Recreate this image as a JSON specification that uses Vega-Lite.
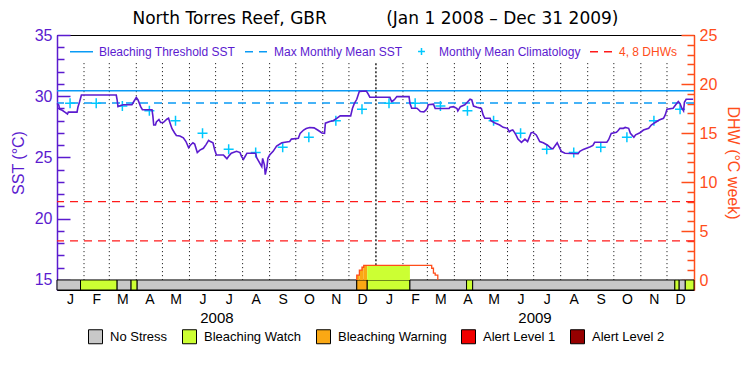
{
  "$schema": "https://vega.github.io/schema/vega-lite/v6.json",
  "width": 637,
  "height": 255,
  "autosize": "none",
  "padding": {"left": 57, "top": 35, "right": 56, "bottom": 85},
  "background": "white",
  "title": {
    "text": "North Torres Reef, GBR\u00a0\u00a0\u00a0\u00a0\u00a0\u00a0\u00a0\u00a0\u00a0\u00a0\u00a0(Jan 1 2008 – Dec 31 2009)",
    "fontSize": 17, "fontWeight": "normal", "font": "DejaVu Sans", "color": "black", "anchor": "middle", "offset": -1
  },
  "config": {
    "font": "Liberation Sans",
    "view": {"stroke": "black", "strokeWidth": 1},
    "axis": {"labelFont": "Liberation Sans", "titleFont": "Liberation Sans", "grid": false, "labelOverlap": false},
    "legend": {"labelFont": "Liberation Sans"}
  },
  "datasets": {
    "sst": [
      {"date":"2008-01-01","sst":29.42},{"date":"2008-01-03","sst":29.3},{"date":"2008-01-04","sst":28.94},{"date":"2008-01-07","sst":28.85},
      {"date":"2008-01-10","sst":28.7},{"date":"2008-01-13","sst":28.55},{"date":"2008-01-14","sst":28.7},{"date":"2008-01-24","sst":28.7},
      {"date":"2008-01-25","sst":29.1},{"date":"2008-01-27","sst":29.57},{"date":"2008-01-29","sst":30.1},{"date":"2008-03-09","sst":30.1},
      {"date":"2008-03-10","sst":29.7},{"date":"2008-03-11","sst":29.15},{"date":"2008-03-14","sst":29.25},{"date":"2008-03-17","sst":29.3},
      {"date":"2008-03-27","sst":29.3},{"date":"2008-03-29","sst":29.55},{"date":"2008-04-01","sst":29.9},{"date":"2008-04-03","sst":29.7},
      {"date":"2008-04-06","sst":29.15},{"date":"2008-04-08","sst":28.9},{"date":"2008-04-19","sst":28.9},{"date":"2008-04-20","sst":28.4},
      {"date":"2008-04-21","sst":27.65},{"date":"2008-04-23","sst":27.65},{"date":"2008-04-24","sst":27.9},{"date":"2008-04-27","sst":28.1},
      {"date":"2008-04-29","sst":27.85},{"date":"2008-05-02","sst":27.85},{"date":"2008-05-06","sst":28.12},{"date":"2008-05-08","sst":28.2},
      {"date":"2008-05-10","sst":27.76},{"date":"2008-05-12","sst":27.35},{"date":"2008-05-15","sst":27.0},{"date":"2008-05-17","sst":26.8},
      {"date":"2008-05-21","sst":26.75},{"date":"2008-05-25","sst":26.6},{"date":"2008-05-28","sst":26.3},{"date":"2008-05-31","sst":25.8},
      {"date":"2008-06-02","sst":26.0},{"date":"2008-06-05","sst":26.2},{"date":"2008-06-07","sst":26.1},{"date":"2008-06-10","sst":25.4},
      {"date":"2008-06-13","sst":25.6},{"date":"2008-06-17","sst":25.75},{"date":"2008-06-20","sst":26.05},{"date":"2008-06-23","sst":26.4},
      {"date":"2008-06-25","sst":26.3},{"date":"2008-06-28","sst":26.2},{"date":"2008-06-30","sst":25.6},{"date":"2008-07-02","sst":25.2},
      {"date":"2008-07-10","sst":25.2},{"date":"2008-07-12","sst":25.05},{"date":"2008-07-14","sst":24.9},{"date":"2008-07-16","sst":25.1},
      {"date":"2008-07-19","sst":25.35},{"date":"2008-07-25","sst":25.5},{"date":"2008-07-29","sst":25.4},{"date":"2008-07-31","sst":25.05},
      {"date":"2008-08-02","sst":24.85},{"date":"2008-08-04","sst":25.1},{"date":"2008-08-06","sst":25.35},{"date":"2008-08-16","sst":25.35},
      {"date":"2008-08-17","sst":25.0},{"date":"2008-08-21","sst":24.5},{"date":"2008-08-23","sst":24.25},{"date":"2008-08-24","sst":24.93},
      {"date":"2008-08-26","sst":24.4},{"date":"2008-08-27","sst":23.6},{"date":"2008-08-29","sst":24.25},{"date":"2008-08-30","sst":24.93},
      {"date":"2008-09-01","sst":25.2},{"date":"2008-09-05","sst":25.5},{"date":"2008-09-09","sst":25.94},{"date":"2008-09-15","sst":26.2},
      {"date":"2008-09-24","sst":26.3},{"date":"2008-09-26","sst":26.5},{"date":"2008-10-04","sst":26.57},{"date":"2008-10-06","sst":26.97},
      {"date":"2008-10-10","sst":27.24},{"date":"2008-10-13","sst":27.37},{"date":"2008-10-17","sst":27.45},{"date":"2008-10-22","sst":27.42},
      {"date":"2008-10-27","sst":27.2},{"date":"2008-10-31","sst":27.0},{"date":"2008-11-03","sst":26.97},{"date":"2008-11-04","sst":27.8},
      {"date":"2008-11-09","sst":27.93},{"date":"2008-11-13","sst":28.0},{"date":"2008-11-17","sst":28.2},{"date":"2008-11-21","sst":28.4},
      {"date":"2008-12-03","sst":28.4},{"date":"2008-12-05","sst":29.0},{"date":"2008-12-07","sst":29.37},{"date":"2008-12-10","sst":29.75},
      {"date":"2008-12-13","sst":30.4},{"date":"2008-12-21","sst":30.43},{"date":"2008-12-23","sst":30.2},{"date":"2008-12-25","sst":29.92},
      {"date":"2009-01-17","sst":29.92},{"date":"2009-01-19","sst":29.57},{"date":"2009-01-21","sst":29.65},{"date":"2009-01-23","sst":29.8},
      {"date":"2009-01-25","sst":29.97},{"date":"2009-02-08","sst":29.97},{"date":"2009-02-09","sst":29.43},{"date":"2009-02-11","sst":29.02},
      {"date":"2009-02-17","sst":29.02},{"date":"2009-02-19","sst":28.9},{"date":"2009-02-21","sst":28.75},{"date":"2009-02-25","sst":28.72},
      {"date":"2009-02-27","sst":28.85},{"date":"2009-03-01","sst":29.02},{"date":"2009-03-02","sst":29.3},{"date":"2009-03-08","sst":29.35},
      {"date":"2009-03-10","sst":29.0},{"date":"2009-03-26","sst":29.0},{"date":"2009-03-27","sst":29.1},{"date":"2009-03-31","sst":29.15},
      {"date":"2009-04-04","sst":29.0},{"date":"2009-04-05","sst":28.8},{"date":"2009-04-08","sst":29.15},{"date":"2009-04-13","sst":29.3},
      {"date":"2009-04-15","sst":29.45},{"date":"2009-04-19","sst":29.75},{"date":"2009-04-21","sst":29.7},{"date":"2009-04-23","sst":29.2},
      {"date":"2009-04-27","sst":29.1},{"date":"2009-05-02","sst":29.0},{"date":"2009-05-04","sst":28.47},{"date":"2009-05-06","sst":28.2},
      {"date":"2009-05-12","sst":28.2},{"date":"2009-05-13","sst":28.0},{"date":"2009-05-17","sst":27.84},{"date":"2009-05-23","sst":27.65},
      {"date":"2009-05-27","sst":27.46},{"date":"2009-06-01","sst":27.38},{"date":"2009-06-03","sst":27.1},{"date":"2009-06-05","sst":27.2},
      {"date":"2009-06-07","sst":27.25},{"date":"2009-06-09","sst":27.05},{"date":"2009-06-11","sst":26.8},{"date":"2009-06-13","sst":26.5},
      {"date":"2009-06-17","sst":26.23},{"date":"2009-06-21","sst":26.5},{"date":"2009-06-24","sst":26.3},{"date":"2009-06-28","sst":27.0},
      {"date":"2009-06-30","sst":27.05},{"date":"2009-07-04","sst":26.84},{"date":"2009-07-08","sst":26.3},{"date":"2009-07-12","sst":26.2},
      {"date":"2009-07-17","sst":26.0},{"date":"2009-07-21","sst":25.75},{"date":"2009-07-23","sst":25.7},{"date":"2009-07-26","sst":26.0},
      {"date":"2009-07-28","sst":26.2},{"date":"2009-07-31","sst":25.75},{"date":"2009-08-02","sst":25.48},{"date":"2009-08-06","sst":25.35},
      {"date":"2009-08-21","sst":25.3},{"date":"2009-08-23","sst":25.5},{"date":"2009-08-27","sst":25.66},{"date":"2009-09-01","sst":25.8},
      {"date":"2009-09-04","sst":25.88},{"date":"2009-09-07","sst":25.98},{"date":"2009-09-09","sst":26.24},{"date":"2009-09-23","sst":26.24},
      {"date":"2009-09-25","sst":26.45},{"date":"2009-09-28","sst":26.97},{"date":"2009-10-04","sst":27.05},{"date":"2009-10-06","sst":27.2},
      {"date":"2009-10-08","sst":27.38},{"date":"2009-10-12","sst":27.38},{"date":"2009-10-14","sst":27.45},{"date":"2009-10-18","sst":27.38},
      {"date":"2009-10-20","sst":26.97},{"date":"2009-10-24","sst":26.65},{"date":"2009-10-26","sst":26.85},{"date":"2009-10-31","sst":27.02},
      {"date":"2009-11-04","sst":27.24},{"date":"2009-11-10","sst":27.38},{"date":"2009-11-13","sst":27.65},{"date":"2009-11-17","sst":27.84},
      {"date":"2009-11-22","sst":28.06},{"date":"2009-11-27","sst":28.2},{"date":"2009-11-29","sst":28.47},{"date":"2009-12-01","sst":28.94},
      {"date":"2009-12-08","sst":29.02},{"date":"2009-12-11","sst":29.3},{"date":"2009-12-14","sst":29.57},{"date":"2009-12-16","sst":29.4},
      {"date":"2009-12-18","sst":29.02},{"date":"2009-12-20","sst":28.8},{"date":"2009-12-21","sst":29.5},{"date":"2009-12-23","sst":29.75},
      {"date":"2009-12-31","sst":29.75}
    ],
    "climatology": [
      {"date":"2008-01-16","sst":29.42,"series":"Monthly Mean Climatology"},{"date":"2008-02-15","sst":29.42,"series":"Monthly Mean Climatology"},
      {"date":"2008-03-16","sst":29.2,"series":"Monthly Mean Climatology"},{"date":"2008-04-16","sst":28.82,"series":"Monthly Mean Climatology"},
      {"date":"2008-05-16","sst":28.0,"series":"Monthly Mean Climatology"},{"date":"2008-06-16","sst":26.97,"series":"Monthly Mean Climatology"},
      {"date":"2008-07-16","sst":25.67,"series":"Monthly Mean Climatology"},{"date":"2008-08-16","sst":25.4,"series":"Monthly Mean Climatology"},
      {"date":"2008-09-16","sst":25.83,"series":"Monthly Mean Climatology"},{"date":"2008-10-16","sst":26.65,"series":"Monthly Mean Climatology"},
      {"date":"2008-11-16","sst":28.0,"series":"Monthly Mean Climatology"},{"date":"2008-12-16","sst":28.94,"series":"Monthly Mean Climatology"},
      {"date":"2009-01-16","sst":29.42,"series":"Monthly Mean Climatology"},{"date":"2009-02-15","sst":29.42,"series":"Monthly Mean Climatology"},
      {"date":"2009-03-16","sst":29.2,"series":"Monthly Mean Climatology"},{"date":"2009-04-16","sst":28.82,"series":"Monthly Mean Climatology"},
      {"date":"2009-05-16","sst":28.0,"series":"Monthly Mean Climatology"},{"date":"2009-06-16","sst":26.97,"series":"Monthly Mean Climatology"},
      {"date":"2009-07-16","sst":25.67,"series":"Monthly Mean Climatology"},{"date":"2009-08-16","sst":25.4,"series":"Monthly Mean Climatology"},
      {"date":"2009-09-16","sst":25.83,"series":"Monthly Mean Climatology"},{"date":"2009-10-16","sst":26.65,"series":"Monthly Mean Climatology"},
      {"date":"2009-11-16","sst":28.0,"series":"Monthly Mean Climatology"},{"date":"2009-12-16","sst":28.94,"series":"Monthly Mean Climatology"}
    ],
    "status": [
      {"start":"2008-01-01","end":"2008-01-28","status":"No Stress"},
      {"start":"2008-01-28","end":"2008-03-10","status":"Bleaching Watch"},
      {"start":"2008-03-10","end":"2008-03-26","status":"No Stress"},
      {"start":"2008-03-26","end":"2008-04-02","status":"Bleaching Watch"},
      {"start":"2008-04-02","end":"2008-12-10","status":"No Stress"},
      {"start":"2008-12-10","end":"2008-12-22","status":"Bleaching Warning"},
      {"start":"2008-12-22","end":"2009-02-09","status":"Bleaching Watch"},
      {"start":"2009-02-09","end":"2009-04-15","status":"No Stress"},
      {"start":"2009-04-15","end":"2009-04-22","status":"Bleaching Watch"},
      {"start":"2009-04-22","end":"2009-12-10","status":"No Stress"},
      {"start":"2009-12-10","end":"2009-12-15","status":"Bleaching Watch"},
      {"start":"2009-12-15","end":"2009-12-22","status":"No Stress"},
      {"start":"2009-12-22","end":"2010-01-01","status":"Bleaching Watch"}
    ],
    "dhwfill": [
      {"start":"2008-12-10","end":"2008-12-13","dhw":0.5,"status":"Bleaching Warning"},
      {"start":"2008-12-13","end":"2008-12-16","dhw":1.0,"status":"Bleaching Warning"},
      {"start":"2008-12-16","end":"2008-12-18","dhw":1.3,"status":"Bleaching Warning"},
      {"start":"2008-12-18","end":"2008-12-22","dhw":1.5,"status":"Bleaching Warning"},
      {"start":"2008-12-22","end":"2009-02-09","dhw":1.5,"status":"Bleaching Watch"}
    ],
    "dhw": [
      {"date":"2008-12-10","dhw":0},{"date":"2008-12-10","dhw":0.5},{"date":"2008-12-13","dhw":1.0},
      {"date":"2008-12-16","dhw":1.3},{"date":"2008-12-18","dhw":1.5},{"date":"2009-03-06","dhw":1.2},
      {"date":"2009-03-08","dhw":0.7},{"date":"2009-03-10","dhw":0.5},{"date":"2009-03-13","dhw":0}
    ],
    "months": [
      {"date":"2008-02-01"},{"date":"2008-03-01"},{"date":"2008-04-01"},{"date":"2008-05-01"},{"date":"2008-06-01"},
      {"date":"2008-07-01"},{"date":"2008-08-01"},{"date":"2008-09-01"},{"date":"2008-10-01"},{"date":"2008-11-01"},
      {"date":"2008-12-01"},{"date":"2009-02-01"},{"date":"2009-03-01"},{"date":"2009-04-01"},{"date":"2009-05-01"},
      {"date":"2009-06-01"},{"date":"2009-07-01"},{"date":"2009-08-01"},{"date":"2009-09-01"},{"date":"2009-10-01"},
      {"date":"2009-11-01"},{"date":"2009-12-01"}
    ]
  },
  "layer": [
    {
      "layer": [
        {
          "data": {"name": "months"},
          "mark": {"type": "rule", "color": "black", "strokeDash": [1, 3], "strokeWidth": 1},
          "encoding": {
            "x": {
              "field": "date", "type": "temporal",
              "scale": {"type": "utc", "domain": [{"year": 2008, "month": 1, "date": 1, "utc": true}, {"year": 2010, "month": 1, "date": 1, "utc": true}]},
              "axis": {
                "orient": "bottom", "title": null, "ticks": false, "domain": false, "grid": false, "tickCount": 100,
                "labelExpr": "utcFormat(datum.value, '%b')[0]", "labelFontSize": 14, "labelColor": "black",
                "labelPadding": 2, "labelOverlap": false, "labelFlush": false, "labelBound": false,
                "values": [
                  {"year":2008,"month":1,"date":16,"utc":true},{"year":2008,"month":2,"date":15,"utc":true},{"year":2008,"month":3,"date":16,"utc":true},
                  {"year":2008,"month":4,"date":16,"utc":true},{"year":2008,"month":5,"date":16,"utc":true},{"year":2008,"month":6,"date":16,"utc":true},
                  {"year":2008,"month":7,"date":16,"utc":true},{"year":2008,"month":8,"date":16,"utc":true},{"year":2008,"month":9,"date":16,"utc":true},
                  {"year":2008,"month":10,"date":16,"utc":true},{"year":2008,"month":11,"date":16,"utc":true},{"year":2008,"month":12,"date":16,"utc":true},
                  {"year":2009,"month":1,"date":16,"utc":true},{"year":2009,"month":2,"date":15,"utc":true},{"year":2009,"month":3,"date":16,"utc":true},
                  {"year":2009,"month":4,"date":16,"utc":true},{"year":2009,"month":5,"date":16,"utc":true},{"year":2009,"month":6,"date":16,"utc":true},
                  {"year":2009,"month":7,"date":16,"utc":true},{"year":2009,"month":8,"date":16,"utc":true},{"year":2009,"month":9,"date":16,"utc":true},
                  {"year":2009,"month":10,"date":16,"utc":true},{"year":2009,"month":11,"date":16,"utc":true},{"year":2009,"month":12,"date":16,"utc":true}
                ]
              }
            },
            "y": {
              "datum": 32.7, "type": "quantitative",
              "scale": {"domain": [14.18, 35], "nice": false, "zero": false},
              "axis": {
                "orient": "left", "title": "SST (°C)", "tickCount": 100, "format": "d",
                "values": [15,16,17,18,19,20,21,22,23,24,25,26,27,28,29,30,31,32,33,34,35],
                "labelExpr": "datum.value % 5 === 0 ? datum.label : ''",
                "tickSize": {"condition": {"test": "datum.value % 5 === 0", "value": -13}, "value": -7},
                "tickColor": "#5B1BCF", "tickWidth": 1.5, "domainColor": "#5B1BCF", "domainWidth": 1.5,
                "labelColor": "#5B1BCF", "labelFontSize": 16, "labelPadding": 18, "labelOverlap": false,
                "titleColor": "#5B1BCF", "titleFontSize": 16, "titleFontWeight": "normal", "titlePadding": 8, "grid": false
              }
            },
            "y2": {"datum": 15}
          }
        },
        {
          "data": {"values": [{"date": "2009-01-01"}]},
          "mark": {"type": "rule", "color": "black", "strokeDash": [2, 2], "strokeWidth": 1.3},
          "encoding": {
            "x": {"field": "date", "type": "temporal"},
            "y": {"datum": 32.7},
            "y2": {"datum": 15}
          }
        },
        {
          "data": {"values": [{"series": "Bleaching Threshold SST", "sst": 30.45}]},
          "mark": {"type": "rule", "strokeWidth": 1.3},
          "encoding": {
            "y": {"field": "sst", "type": "quantitative"},
            "stroke": {
              "field": "series", "type": "nominal",
              "scale": {
                "domain": ["Bleaching Threshold SST", "Max Monthly Mean SST", "Monthly Mean Climatology", "4, 8 DHWs"],
                "range": ["#0A9BF5", "#0A9BF5", "#00C8FF", "#FF1A1A"]
              },
              "legend": {
                "title": null, "orient": "none", "legendX": 12, "legendY": 4, "direction": "horizontal", "columns": 4,
                "padding": 0, "columnPadding": 6, "symbolSize": 529, "symbolStrokeWidth": 1.5,
                "labelFontSize": 12, "labelOffset": 5, "labelLimit": 0,
                "encode": {
                  "symbols": {"update": {
                    "shape": {"signal": "datum.value === 'Monthly Mean Climatology' ? 'M-0.3,0H0.3M0,-0.3V0.3' : 'stroke'"},
                    "strokeDash": {"signal": "(datum.value === 'Max Monthly Mean SST' || datum.value === '4, 8 DHWs') ? [8, 6] : [1, 0]"},
                    "fill": {"value": "transparent"}
                  }},
                  "labels": {"update": {"fill": {"signal": "datum.value === '4, 8 DHWs' ? '#FF4D1A' : '#5B1BCF'"}}}
                }
              }
            }
          }
        },
        {
          "data": {"values": [{"series": "Max Monthly Mean SST", "sst": 29.45}]},
          "mark": {"type": "rule", "strokeWidth": 1.3, "strokeDash": [8, 6]},
          "encoding": {
            "y": {"field": "sst", "type": "quantitative"},
            "stroke": {"field": "series", "type": "nominal"}
          }
        },
        {
          "data": {"name": "climatology"},
          "mark": {"type": "point", "shape": "M-1,0H1M0,-1V1", "size": 100, "strokeWidth": 1.5, "filled": false, "opacity": 1},
          "encoding": {
            "x": {"field": "date", "type": "temporal"},
            "y": {"field": "sst", "type": "quantitative"},
            "stroke": {"field": "series", "type": "nominal"}
          }
        },
        {
          "data": {"name": "sst"},
          "mark": {"type": "line", "color": "#5B1BCF", "strokeWidth": 1.6},
          "encoding": {
            "x": {"field": "date", "type": "temporal"},
            "y": {"field": "sst", "type": "quantitative"}
          }
        },
        {
          "data": {"name": "status"},
          "mark": {"type": "rect", "stroke": "black", "strokeWidth": 1},
          "encoding": {
            "x": {"field": "start", "type": "temporal"},
            "x2": {"field": "end"},
            "y": {"datum": 15},
            "y2": {"datum": 14.18},
            "color": {
              "field": "status", "type": "nominal",
              "scale": {
                "domain": ["No Stress", "Bleaching Watch", "Bleaching Warning", "Alert Level 1", "Alert Level 2"],
                "range": ["#C8C8C8", "#CCFF33", "#FAA814", "#F00000", "#960000"]
              },
              "legend": {
                "title": null, "orient": "none", "legendX": 31, "legendY": 294, "direction": "horizontal", "columns": 5,
                "padding": 0, "columnPadding": 12, "symbolType": "square", "symbolSize": 196,
                "symbolStrokeColor": "black", "symbolStrokeWidth": 1, "labelFontSize": 13, "labelOffset": 7, "labelLimit": 0,
                "labelColor": "black",
                "encode": {"symbols": {"update": {"stroke": {"value": "black"}, "strokeWidth": {"value": 1}, "opacity": {"value": 1}}}}
              }
            }
          }
        }
      ]
    },
    {
      "layer": [
        {
          "data": {"values": [{"series": "4, 8 DHWs", "dhw": 4}, {"series": "4, 8 DHWs", "dhw": 8}]},
          "mark": {"type": "rule", "strokeWidth": 1.3, "strokeDash": [8, 6]},
          "encoding": {
            "y": {
              "field": "dhw", "type": "quantitative",
              "scale": {"domain": [-1.02, 25], "nice": false, "zero": false},
              "axis": {
                "orient": "right", "title": "DHW (°C week)", "tickCount": 100, "format": "d",
                "values": [0,1,2,3,4,5,6,7,8,9,10,11,12,13,14,15,16,17,18,19,20,21,22,23,24,25],
                "labelExpr": "datum.value % 5 === 0 ? datum.label : ''",
                "tickSize": {"condition": {"test": "datum.value % 5 === 0", "value": -13}, "value": -7},
                "tickColor": "#FF4D1A", "tickWidth": 1.5, "domainColor": "#FF4D1A", "domainWidth": 1.5,
                "labelColor": "#FF4D1A", "labelFontSize": 16, "labelPadding": 18, "labelOverlap": false,
                "titleColor": "#FF4D1A", "titleFontSize": 16, "titleFontWeight": "normal", "titlePadding": 8, "grid": false
              }
            },
            "stroke": {"field": "series", "type": "nominal"}
          }
        },
        {
          "data": {"name": "dhwfill"},
          "mark": {"type": "rect"},
          "encoding": {
            "x": {"field": "start", "type": "temporal", "axis": null},
            "x2": {"field": "end"},
            "y": {"field": "dhw", "type": "quantitative"},
            "y2": {"datum": 0},
            "color": {"field": "status", "type": "nominal"}
          }
        },
        {
          "data": {"name": "dhw"},
          "mark": {"type": "line", "color": "#FF4D1A", "strokeWidth": 1.3, "interpolate": "step-after"},
          "encoding": {
            "x": {"field": "date", "type": "temporal", "axis": null},
            "y": {"field": "dhw", "type": "quantitative"}
          }
        }
      ]
    },
    {
      "data": {"values": [{"date": "2008-07-02"}, {"date": "2009-07-02"}]},
      "mark": {"type": "rule", "opacity": 0},
      "encoding": {
        "x": {
          "field": "date", "type": "temporal",
          "axis": {
            "orient": "bottom", "offset": 18, "title": null, "ticks": false, "domain": false, "grid": false, "tickCount": 100,
            "labelExpr": "utcFormat(datum.value, '%Y')", "labelFontSize": 15, "labelColor": "black", "labelPadding": 2,
            "labelOverlap": false, "labelFlush": false,
            "values": [{"year": 2008, "month": 7, "date": 2, "utc": true}, {"year": 2009, "month": 7, "date": 2, "utc": true}]
          }
        }
      }
    }
  ],
  "resolve": {"scale": {"y": "independent"}, "axis": {"x": "independent", "y": "independent"}}
}
